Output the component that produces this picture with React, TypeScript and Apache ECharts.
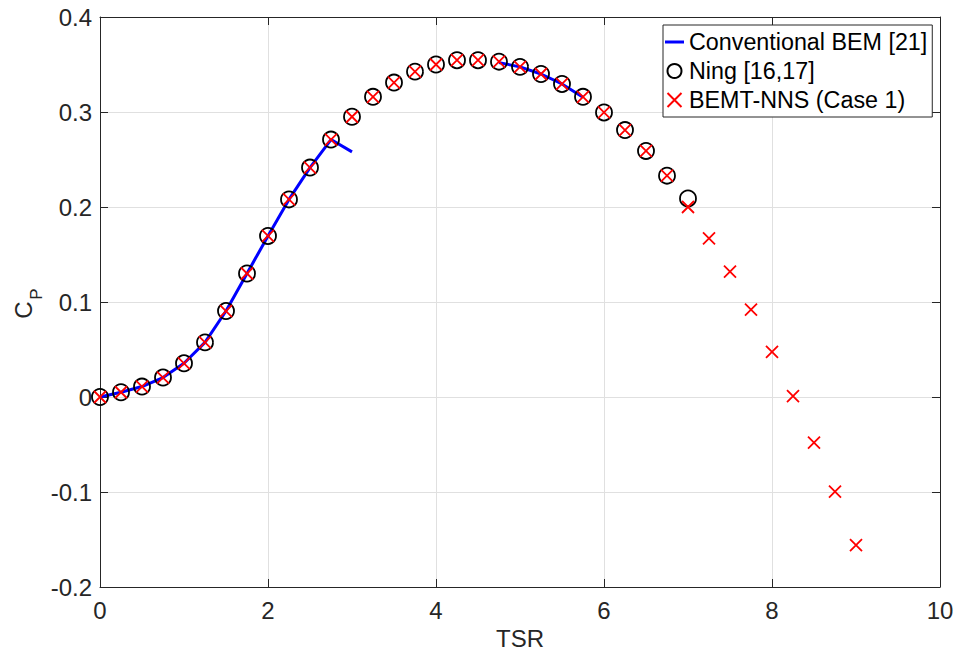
import React, { useEffect, useRef } from "react";
import * as echarts from "echarts";

// TSR sample points (step 0.25)
const tsr = [0, 0.25, 0.5, 0.75, 1, 1.25, 1.5, 1.75, 2, 2.25, 2.5, 2.75, 3, 3.25, 3.5, 3.75, 4, 4.25, 4.5, 4.75, 5, 5.25, 5.5, 5.75, 6, 6.25, 6.5, 6.75, 7, 7.25, 7.5, 7.75, 8, 8.25, 8.5, 8.75, 9];

// Ning [16,17] — TSR 0 .. 7
const ningCp = [0, 0.005, 0.011, 0.0205, 0.0355, 0.0575, 0.0905, 0.13, 0.1695, 0.208, 0.2415, 0.271, 0.295, 0.316, 0.331, 0.3425, 0.35, 0.3545, 0.3545, 0.353, 0.3475, 0.34, 0.3295, 0.316, 0.2995, 0.281, 0.259, 0.233, 0.209];

// BEMT-NNS (Case 1) — TSR 0 .. 9
const bemtCp = [0, 0.005, 0.011, 0.0205, 0.0355, 0.0575, 0.0905, 0.13, 0.1695, 0.208, 0.2415, 0.271, 0.295, 0.316, 0.331, 0.3425, 0.35, 0.3545, 0.3545, 0.353, 0.3475, 0.34, 0.3295, 0.316, 0.2995, 0.281, 0.259, 0.233, 0.2, 0.167, 0.132, 0.092, 0.0475, 0.001, -0.048, -0.0995, -0.156];

// Conventional BEM [21] — two segments
const bemTsrA = [0, 0.25, 0.5, 0.75, 1, 1.25, 1.5, 1.75, 2, 2.25, 2.5, 2.75, 3];
const bemCpA = [0, 0.005, 0.011, 0.0205, 0.0355, 0.0575, 0.0905, 0.13, 0.1695, 0.208, 0.2415, 0.271, 0.258];
const bemTsrB = [4.75, 5, 5.25, 5.5, 5.75];
const bemCpB = [0.352, 0.3475, 0.34, 0.3295, 0.3155];

const xTicks = { min: 0, max: 10, interval: 2 };
const yTicks = { min: -0.2, max: 0.4, interval: 0.1 };

const FONT = "'Liberation Sans', Arial, Helvetica, sans-serif";
const AX = "#262626";
const FS = 24;

export default function App() {
  const ref = useRef<HTMLDivElement>(null);
  useEffect(() => {
    if (!ref.current) return;
    const chart = echarts.init(ref.current, undefined, { renderer: "svg" });
    const pair = (xs: number[], ys: number[]) => ys.map((y, i) => [xs[i], y]);
    const crossPath = "path://M0,0L10,10M10,0L0,10";
    const baseX = {
      type: "value" as const,
      min: xTicks.min,
      max: xTicks.max,
      interval: xTicks.interval,
      axisLine: { show: true, onZero: false, lineStyle: { color: AX, width: 1 } },
      axisTick: { show: true, inside: true, length: 8, lineStyle: { color: AX } },
    };
    const baseY = {
      type: "value" as const,
      min: yTicks.min,
      max: yTicks.max,
      interval: yTicks.interval,
      axisLine: { show: true, onZero: false, lineStyle: { color: AX, width: 1 } },
      axisTick: { show: true, inside: true, length: 8, lineStyle: { color: AX } },
    };
    chart.setOption({
      animation: false,
      backgroundColor: "#ffffff",
      textStyle: { fontFamily: FONT },
      grid: { left: 100, right: 19, top: 17, bottom: 71, containLabel: false },
      legend: {
        orient: "vertical",
        left: 663,
        top: 25,
        padding: [4, 5, 4, 2],
        itemGap: 3,
        itemWidth: 19,
        itemHeight: 14,
        backgroundColor: "#ffffff",
        borderColor: AX,
        borderWidth: 1,
        borderRadius: 0,
        textStyle: { fontFamily: FONT, fontSize: 23.3, color: "#000000", lineHeight: 26 },
        data: [
          { name: "Conventional BEM [21]", icon: "path://M0,0L19,0L19,3L0,3Z", itemStyle: { color: "#0000ff", borderWidth: 0 } },
          { name: "Ning [16,17]" },
          { name: "BEMT-NNS (Case 1)" },
        ],
      },
      xAxis: [
        {
          ...baseX,
          position: "bottom",
          name: "TSR",
          nameLocation: "middle",
          nameGap: 35,
          nameTextStyle: { fontFamily: FONT, fontSize: FS, color: AX },
          axisLabel: { show: true, margin: 11, fontFamily: FONT, fontSize: FS, color: AX },
          splitLine: { show: true, lineStyle: { color: "#e0e0e0", width: 1 } },
        },
        {
          ...baseX,
          position: "top",
          axisLabel: { show: false },
          splitLine: { show: false },
        },
      ],
      yAxis: [
        {
          ...baseY,
          position: "left",
          axisLabel: { show: true, margin: 8, fontFamily: FONT, fontSize: FS, color: AX },
          splitLine: { show: true, lineStyle: { color: "#e0e0e0", width: 1 } },
        },
        {
          ...baseY,
          position: "right",
          axisLabel: { show: false },
          splitLine: { show: false },
        },
      ],
      graphic: [
        {
          type: "text",
          x: 23,
          y: 310,
          rotation: Math.PI / 2,
          style: { text: "C", fontFamily: FONT, fontSize: FS, fill: AX, align: "center", verticalAlign: "middle" },
        },
        {
          type: "text",
          x: 36,
          y: 294,
          rotation: Math.PI / 2,
          style: { text: "P", fontFamily: FONT, fontSize: 17, fill: AX, align: "center", verticalAlign: "middle" },
        },
      ],
      series: [
        {
          name: "Conventional BEM [21]",
          type: "line",
          data: pair(bemTsrA, bemCpA),
          symbol: "none",
          lineStyle: { color: "#0000ff", width: 3 },
          itemStyle: { color: "#0000ff" },
          z: 2,
        },
        {
          name: "Conventional BEM [21]",
          type: "line",
          data: pair(bemTsrB, bemCpB),
          symbol: "none",
          lineStyle: { color: "#0000ff", width: 3 },
          itemStyle: { color: "#0000ff" },
          z: 2,
        },
        {
          name: "Ning [16,17]",
          type: "scatter",
          data: pair(tsr, ningCp),
          symbol: "circle",
          symbolSize: 16,
          symbolKeepAspect: true,
          itemStyle: { color: "rgba(0,0,0,0)", borderColor: "#000000", borderWidth: 1.8, opacity: 1 },
          z: 3,
        },
        {
          name: "BEMT-NNS (Case 1)",
          type: "scatter",
          data: pair(tsr, bemtCp),
          symbol: crossPath,
          symbolSize: 12,
          symbolKeepAspect: true,
          itemStyle: { color: "rgba(0,0,0,0)", borderColor: "#ff0000", borderWidth: 1.8, opacity: 1 },
          z: 4,
        },
      ],
    });
    return () => chart.dispose();
  }, []);
  return (
    <div
      ref={ref}
      style={{ position: "fixed", left: 0, top: 0, width: 959, height: 658, background: "#fff" }}
    />
  );
}
